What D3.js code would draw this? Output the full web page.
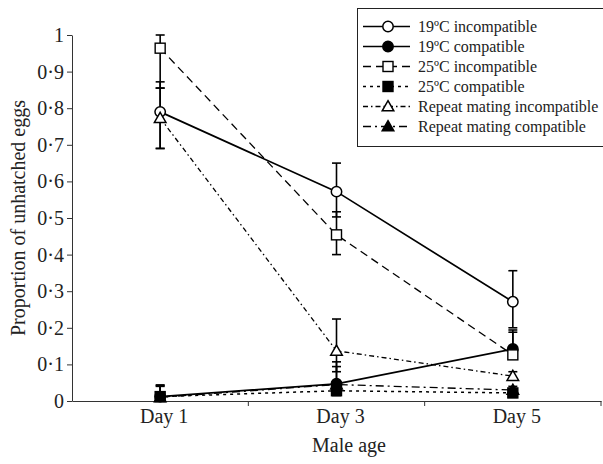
<!DOCTYPE html>
<html>
<head>
<meta charset="utf-8">
<script src="https://cdn.jsdelivr.net/npm/d3@7"></script>
<style>
  body { margin: 0; background: #fff; }
  svg text { font-family: "Liberation Serif", "Times New Roman", serif; fill: #222; }
</style>
</head>
<body>
<div id="chart"></div>
<script>
// categories on the x axis
const categories = ['Day 1', 'Day 3', 'Day 5'];
const yTicks = [0, 0.1, 0.2, 0.3, 0.4, 0.5, 0.6, 0.7, 0.8, 0.9, 1];

// means and error bar ends (upper / lower)
const inc19 = [0.79, 0.572, 0.271];
const inc19Hi = [0.872, 0.65, 0.356];
const inc19Lo = [0.69, 0.503, 0.2];

const com19 = [0.012, 0.047, 0.142];
const com19Hi = [0.044, 0.094, 0.194];
const com19Lo = [0.0, 0.03, 0.13];

const inc25 = [0.964, 0.454, 0.126];
const inc25Hi = [1.0, 0.517, 0.188];
const inc25Lo = [0.855, 0.40, 0.115];

const com25 = [0.012, 0.028, 0.022];
const com25Hi = [0.04, 0.05, 0.034];
const com25Lo = [0.0, 0.015, 0.01];

const repInc = [0.773, 0.137, 0.068];
const repIncHi = [0.855, 0.224, 0.08];
const repIncLo = [0.69, 0.08, 0.058];

const repCom = [0.01, 0.045, 0.03];
const repComHi = [0.042, 0.107, 0.04];
const repComLo = [0.0, 0.02, 0.02];

const labels = ['19ºC incompatible', '19ºC compatible', '25ºC incompatible',
  '25ºC compatible', 'Repeat mating incompatible', 'Repeat mating compatible'];

let series = [
  { name: labels[0], values: inc19, hi: inc19Hi, lo: inc19Lo, shape: 'circle', filled: false, dash: null, sw: 1.7 },
  { name: labels[1], values: com19, hi: com19Hi, lo: com19Lo, shape: 'circle', filled: true, dash: null, sw: 1.7 },
  { name: labels[2], values: inc25, hi: inc25Hi, lo: inc25Lo, shape: 'square', filled: false, dash: '8,5', sw: 1.3 },
  { name: labels[3], values: com25, hi: com25Hi, lo: com25Lo, shape: 'square', filled: true, dash: '3,4', sw: 1.5 },
  { name: labels[4], values: repInc, hi: repIncHi, lo: repIncLo, shape: 'triangle', filled: false, dash: '5,3,1.5,3', sw: 1.3 },
  { name: labels[5], values: repCom, hi: repComHi, lo: repComLo, shape: 'triangle', filled: true, dash: '8,4,2,4', sw: 1.3 }
];

let margin = { top: 35, right: 2, bottom: 63, left: 72 };
let width = 603;
let height = 464;

const svg = d3.select('#chart').append('svg')
  .attr('width', width)
  .attr('height', height);

let x = d3.scaleBand()
  .domain(categories)
  .range([margin.left, width - margin.right]);

let y = d3.scaleLinear()
  .domain([0, 1])
  .range([height - margin.bottom, margin.top]);

let cx = (c) => x(c) + x.bandwidth() / 2;

// y axis
let yAxis = svg.append('g')
  .attr('transform', `translate(${margin.left},0)`)
  .call(d3.axisLeft(y)
    .tickValues(yTicks)
    .tickSize(5)
    .tickSizeOuter(0)
    .tickPadding(3)
    .tickFormat(d => d === 0 ? '0' : d === 1 ? '1' : d3.format('.1f')(d).replace('.', '·')));
yAxis.selectAll('text').style('font-size', '20px');
yAxis.selectAll('path, line').attr('stroke', '#333');

// x axis: labels at the band centres, ticks at band edges
let xAxis = svg.append('g')
  .attr('transform', `translate(0,${height - margin.bottom})`)
  .call(d3.axisBottom(x).tickSize(0).tickSizeOuter(0).tickPadding(8));
xAxis.selectAll('text').style('font-size', '20px').attr('dx', 4);
xAxis.select('.domain').attr('stroke', '#333');
xAxis.selectAll('.edge')
  .data(categories)
  .enter()
  .append('line')
  .attr('class', 'edge')
  .attr('x1', d => x(d) + x.bandwidth())
  .attr('x2', d => x(d) + x.bandwidth())
  .attr('y1', 0)
  .attr('y2', 5)
  .attr('stroke', '#333');

// axis titles
svg.append('text')
  .attr('x', 349)
  .attr('y', 452)
  .attr('text-anchor', 'middle')
  .style('font-size', '20px')
  .text('Male age');

svg.append('text')
  .attr('transform', `translate(25,${(margin.top + height - margin.bottom) / 2}) rotate(-90)`)
  .attr('text-anchor', 'middle')
  .style('font-size', '20px')
  .text('Proportion of unhatched eggs');

let line = d3.line()
  .x((d, i) => cx(categories[i]))
  .y(d => y(d));

function drawMarker(g, shape, filled, px, py) {
  let fill = filled ? '#000' : '#fff';
  if (shape === 'circle') {
    g.append('circle').attr('cx', px).attr('cy', py).attr('r', 5.2)
      .attr('fill', fill).attr('stroke', '#000').attr('stroke-width', 1.5);
  } else if (shape === 'square') {
    g.append('rect').attr('x', px - 5).attr('y', py - 5).attr('width', 10).attr('height', 10)
      .attr('fill', fill).attr('stroke', '#000').attr('stroke-width', 1.4);
  } else {
    let s = 5.8;
    g.append('path')
      .attr('d', `M${px},${py - s} L${px + s},${py + s * 0.75} L${px - s},${py + s * 0.75} Z`)
      .attr('fill', fill).attr('stroke', '#000').attr('stroke-width', 1.5);
  }
}

// lines
series.forEach(s => {
  svg.append('path')
    .attr('d', line(s.values))
    .attr('fill', 'none')
    .attr('stroke', '#000')
    .attr('stroke-width', s.sw)
    .attr('stroke-dasharray', s.dash);
});

// error bars
let bars = svg.append('g').attr('class', 'errors');
series.forEach(s => {
  s.values.forEach((v, i) => {
    let px = cx(categories[i]);
    bars.append('line')
      .attr('x1', px).attr('x2', px)
      .attr('y1', y(s.lo[i])).attr('y2', y(s.hi[i]))
      .attr('stroke', '#000').attr('stroke-width', 1.6);
    [s.lo[i], s.hi[i]].forEach(e => {
      if (e <= 0) return;
      bars.append('line')
        .attr('x1', px - 4.5).attr('x2', px + 4.5)
        .attr('y1', y(e)).attr('y2', y(e))
        .attr('stroke', '#000').attr('stroke-width', 1.6);
    });
  });
});

// markers on top
let marks = svg.append('g').attr('class', 'marks');
series.forEach(s => {
  s.values.forEach((v, i) => drawMarker(marks, s.shape, s.filled, cx(categories[i]), y(v)));
});

// legend
let legend = svg.append('g').attr('class', 'legend');
legend.append('rect')
  .attr('x', 357.5).attr('y', 8.5)
  .attr('width', 250).attr('height', 138)
  .attr('fill', '#fff')
  .attr('stroke', '#222')
  .attr('stroke-width', 1);

series.forEach((s, i) => {
  let ly = 26.5 + i * 20;
  legend.append('line')
    .attr('x1', 363).attr('x2', 410)
    .attr('y1', ly).attr('y2', ly)
    .attr('stroke', '#000')
    .attr('stroke-width', s.sw)
    .attr('stroke-dasharray', s.dash);
  drawMarker(legend, s.shape, s.filled, 388, ly);
  legend.append('text')
    .attr('x', 418)
    .attr('y', ly)
    .attr('dy', '0.33em')
    .style('font-size', '16px')
    .text(s.name);
});
</script>
</body>
</html>
